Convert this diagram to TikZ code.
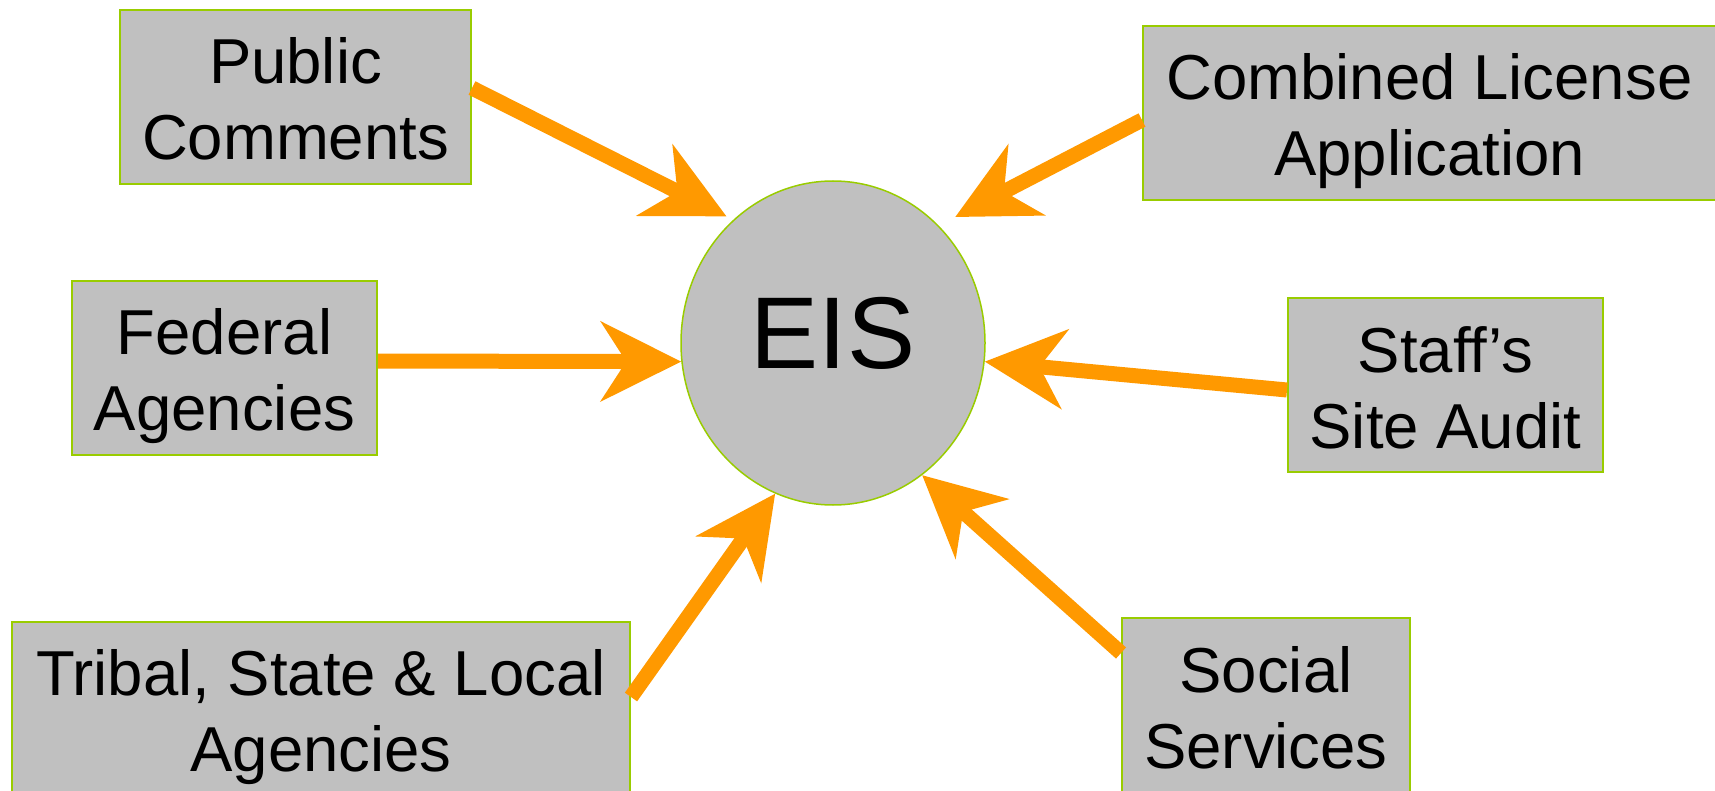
\documentclass[tikz,border=0pt]{standalone}
\usepackage{fontspec}
\setmainfont{Liberation Sans}
\usetikzlibrary{arrows.meta,shapes.geometric}
\definecolor{arrorange}{HTML}{FF9900}
\definecolor{boxgrey}{HTML}{C0C0C0}
\definecolor{boxgreen}{HTML}{99CC00}
\newcommand\lnst{\rule[-13pt]{0pt}{76pt}}
\tikzset{
  srcbox/.style={rectangle, draw=boxgreen, line width=2pt, fill=boxgrey,
    inner sep=0pt, minimum height=174pt, align=center,
    font=\fontsize{63.5pt}{76pt}\selectfont},
  flow/.style={draw=arrorange, line width=15pt,
    -{Stealth[length=80pt, width=79pt, inset=25pt]}}
}
\begin{document}
\begin{tikzpicture}[x=1pt,y=-1pt]
\useasboundingbox (0,0) rectangle (1715,791);
\clip (0,0) rectangle (1715,791);
\node[ellipse, draw=boxgreen, line width=1.5pt, fill=boxgrey, inner sep=0pt,
  minimum width=304pt, minimum height=324pt,
  font=\fontsize{102pt}{110pt}\selectfont, text height=73pt, text depth=22pt]
  (eis) at (833,343) {EIS};
\node[srcbox, minimum width=351pt] (pub) at (295.5,97) {\lnst Public\\\lnst Comments};
\node[srcbox, minimum width=573pt] (cla) at (1429.5,113) {\lnst Combined License\\\lnst Application};
\node[srcbox, minimum width=305pt] (fed) at (224.5,368) {\lnst Federal\\\lnst Agencies};
\node[srcbox, minimum width=315pt] (ssa) at (1445.5,385) {\lnst Staff’s\\\lnst Site Audit};
\node[srcbox, minimum width=618pt] (tsl) at (321,709) {\lnst Tribal, State \& Local\\\lnst Agencies};
\node[srcbox, minimum width=288pt] (soc) at (1266,705) {\lnst Social\\\lnst Services};
\draw[flow, shorten >=7.5pt] ([yshift=9pt]pub.east) -- (eis.129);
\draw[flow, shorten >=18.5pt] ([yshift=-7pt]cla.west) -- (eis.48);
\draw[flow] ([yshift=7pt]fed.east) -- (eis.187);
\draw[flow] ([yshift=-5pt]ssa.west) -- (eis.353);
\draw[flow] ([yshift=12pt]tsl.east) -- (eis.249.6);
\draw[flow] ([yshift=52pt]soc.west) -- (eis.304);
\end{tikzpicture}
\end{document}
